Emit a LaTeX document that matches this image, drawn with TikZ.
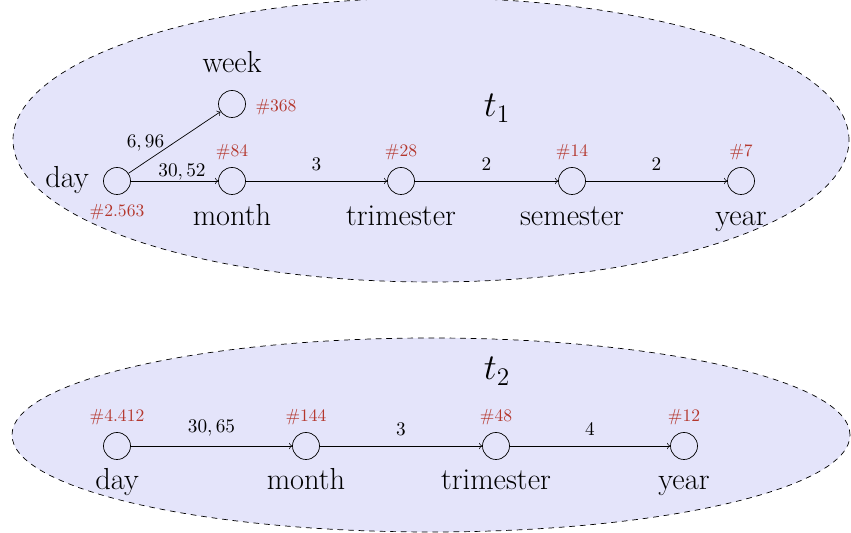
\documentclass[tikz,border=0pt]{standalone}
\usetikzlibrary{calc}
\definecolor{cntred}{RGB}{180,55,45}
\definecolor{setfill}{RGB}{228,228,250}
\tikzset{
    state/.style={
        circle, draw, minimum size=0.54cm, inner sep=0pt
    },
    lab/.style={
        anchor=base, font=\fontsize{17.3}{20}\selectfont
    },
    cnt/.style={
        anchor=base, text=cntred, font=\fontsize{10}{12}\selectfont
    },
    elab/.style={
        anchor=base, font=\fontsize{10.8}{12}\selectfont
    },
    tlab/.style={
        anchor=base, font=\fontsize{20}{24}\selectfont
    },
    group/.style={
        draw, dashed, fill=setfill
    }
}

\begin{document}
\begin{tikzpicture}[line cap=round,line join=round]

% --- frame ---
    \useasboundingbox (0,0) rectangle (17.02,10.66);

% groups (filled ellipses)
    \draw[group] (8.62,7.86) ellipse (8.36 and 2.84);
    \draw[group] (8.62,1.96) ellipse (8.38 and 1.94);

% --- tree t1 ---
    \node[tlab] (t1) at (9.94,8.32) {$t_1$};
    \node[state] (day1)  at ( 2.34,7.04) {};
    \node[state] (week1) at ( 4.64,8.58) {};
    \node[state] (mon1)  at ( 4.64,7.04) {};
    \node[state] (tri1)  at ( 8.02,7.04) {};
    \node[state] (sem1)  at (11.44,7.04) {};
    \node[state] (year1) at (14.82,7.04) {};

% names
    \node[lab] (day1l)  at ($ (day1) + (-1.00,-0.14) $) {day};
    \node[lab] (week1l) at ($ (week1) + (0.00, 0.62) $) {week};
    \node[lab] (mon1l)  at ($ (mon1) + (0.00,-0.90) $) {month};
    \node[lab] (tri1l)  at ($ (tri1) + (0.00,-0.90) $) {trimester};
    \node[lab] (sem1l)  at ($ (sem1) + (0.00,-0.90) $) {semester};
    \node[lab] (year1l) at ($ (year1) + (0.00,-0.90) $) {year};

% counts
    \node[cnt] (day1c)  at ($ (day1) + (0.00,-0.72) $) {\#2.563};
    \node[cnt] (week1c) at ($ (week1) + (0.88,-0.16) $) {\#368};
    \node[cnt] (mon1c)  at ($ (mon1) + (0.00, 0.48) $) {\#84};
    \node[cnt] (tri1c)  at ($ (tri1) + (0.00, 0.48) $) {\#28};
    \node[cnt] (sem1c)  at ($ (sem1) + (0.00, 0.48) $) {\#14};
    \node[cnt] (year1c) at ($ (year1) + (0.00, 0.48) $) {\#7};

% edges
    \draw[->] (day1) -- (week1) node[elab, midway, xshift=-0.58cm, yshift=-0.11cm] {$6,96$};
    \draw[->] (day1) -- (mon1) node[elab, midway, xshift=0.15cm, yshift=0.08cm] {$30,52$};
    \draw[->] (mon1) -- (tri1) node[elab, midway, yshift=0.2cm] {$3$};
    \draw[->] (tri1) -- (sem1) node[elab, midway, yshift=0.2cm] {$2$};
    \draw[->] (sem1) -- (year1) node[elab, midway, yshift=0.2cm] {$2$};

% --- tree t2 ---
    \node[tlab] (t2) at (9.94,3.06) {$t_2$};
    \node[state] (day2)  at ( 2.34,1.74) {};
    \node[state] (mon2)  at ( 6.12,1.74) {};
    \node[state] (tri2)  at ( 9.92,1.74) {};
    \node[state] (year2) at (13.68,1.74) {};

% names
    \node[lab] (day2l)  at ($ (day2) + (0.00,-0.88) $) {day};
    \node[lab] (mon2l)  at ($ (mon2) + (0.00,-0.88) $) {month};
    \node[lab] (tri2l)  at ($ (tri2) + (0.00,-0.88) $) {trimester};
    \node[lab] (year2l) at ($ (year2) + (0.00,-0.88) $) {year};

% counts
    \node[cnt] (day2c)  at ($ (day2) + (0.00, 0.48) $) {\#4.412};
    \node[cnt] (mon2c)  at ($ (mon2) + (0.00, 0.48) $) {\#144};
    \node[cnt] (tri2c)  at ($ (tri2) + (0.00, 0.48) $) {\#48};
    \node[cnt] (year2c) at ($ (year2) + (0.00, 0.48) $) {\#12};

% edges
    \draw[->] (day2) -- (mon2) node[elab, midway, yshift=0.26cm] {$30,65$};
    \draw[->] (mon2) -- (tri2) node[elab, midway, yshift=0.2cm] {$3$};
    \draw[->] (tri2) -- (year2) node[elab, midway, yshift=0.2cm] {$4$};

\end{tikzpicture}
\end{document}
